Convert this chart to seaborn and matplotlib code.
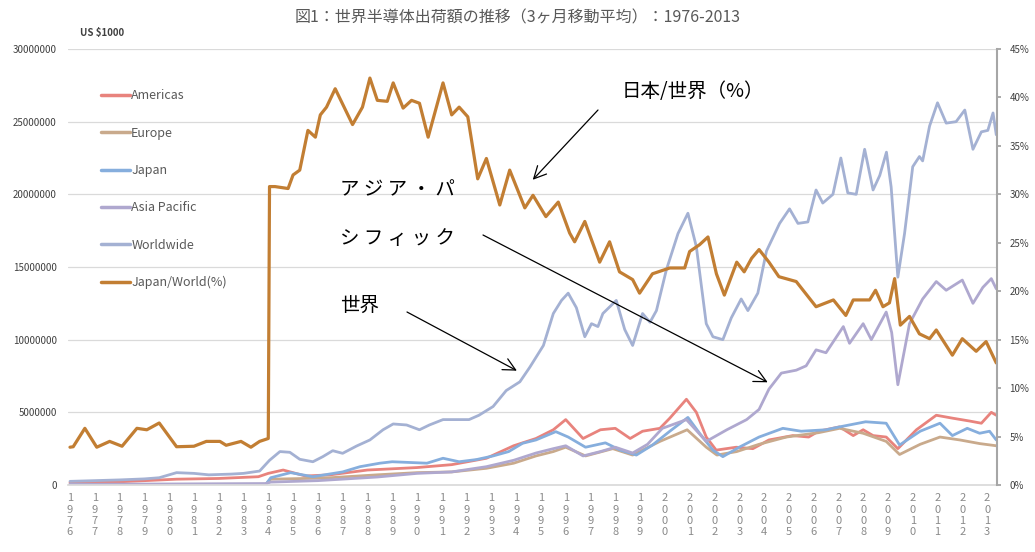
import numpy as np
import pandas as pd
import matplotlib.pyplot as plt
import seaborn as sns

sns.set_theme(style='white')
plt.rcParams['font.family'] = ['Noto Sans CJK JP', 'DejaVu Sans']

#################################################################################
# data (US$1000 in millions, share in %)

am_year = [1976.0, 1978.0, 1980.3, 1982.0, 1983.6, 1984.0, 1984.6, 1985.5, 1986.5, 1988.0,
           1990.0, 1991.4, 1992.8, 1993.9, 1994.8, 1995.5, 1996.0, 1996.7, 1997.4, 1998.0,
           1998.6, 1999.1, 1999.8, 2000.2, 2000.87, 2001.27, 2001.67, 2002.07, 2002.88, 2003.55,
           2004.2, 2005.16, 2005.8, 2006.2, 2007.05, 2007.6, 2008.0, 2008.4, 2008.93, 2009.4,
           2010.15, 2010.95, 2011.6, 2012.3, 2012.77, 2013.17, 2013.37]
am_val = [0.15, 0.22, 0.4, 0.45, 0.57, 0.8, 1.03, 0.62, 0.7, 1.03,
          1.2, 1.4, 1.84, 2.7, 3.2, 3.8, 4.5, 3.2, 3.8, 3.9,
          3.2, 3.7, 3.9, 4.6, 5.9, 5.0, 3.3, 2.4, 2.6, 2.5,
          3.1, 3.4, 3.3, 3.7, 4.0, 3.4, 3.8, 3.4, 3.3, 2.5,
          3.8, 4.8, 4.6, 4.4, 4.25, 5.0, 4.8]

eu_year = [1976.0, 1983.9, 1984.1, 1985.5, 1986.5, 1988.4, 1990.0, 1991.4, 1992.8, 1993.9,
           1994.8, 1995.5, 1996.0, 1996.8, 1997.9, 1998.7, 1999.8, 2000.9, 2001.67, 2002.1,
           2002.9, 2003.8, 2004.9, 2006.2, 2007.05, 2008.0, 2008.93, 2009.47, 2010.3, 2011.1,
           2011.9, 2012.7, 2013.37]
eu_val = [0.03, 0.05, 0.4, 0.45, 0.5, 0.7, 0.85, 0.9, 1.15, 1.5,
          2.0, 2.3, 2.6, 2.0, 2.5, 2.06, 3.0, 3.8, 2.6, 2.06,
          2.3, 2.8, 3.3, 3.6, 3.9, 3.56, 3.0, 2.1, 2.8, 3.3,
          3.1, 2.85, 2.7]

jp_year = [1976.0, 1980.0, 1983.9, 1984.1, 1984.9, 1985.8, 1987.0, 1987.7, 1988.5, 1989.0,
           1990.4, 1991.05, 1991.7, 1992.4, 1993.07, 1993.7, 1994.26, 1994.8, 1995.6, 1996.1,
           1996.8, 1997.6, 1998.2, 1998.85, 1999.5, 2000.2, 2000.93, 2001.4, 2001.94, 2002.34,
           2003.0, 2003.8, 2004.76, 2005.5, 2006.5, 2007.05, 2008.1, 2008.93, 2009.47, 2010.3,
           2011.1, 2011.6, 2012.2, 2012.7, 2013.1, 2013.37]
jp_val = [0.01, 0.03, 0.045, 0.5, 0.85, 0.57, 0.9, 1.26, 1.5, 1.6,
          1.5, 1.84, 1.6, 1.75, 2.0, 2.3, 2.87, 3.1, 3.67, 3.3,
          2.6, 2.9, 2.4, 2.06, 2.75, 3.7, 4.65, 3.56, 2.4, 1.95,
          2.6, 3.3, 3.9, 3.7, 3.8, 4.0, 4.35, 4.25, 2.75, 3.7,
          4.25, 3.4, 3.9, 3.56, 3.7, 3.1]

ap_year = [1976.0, 1980.0, 1983.9, 1984.1, 1986.0, 1988.4, 1990.0, 1991.4, 1992.8, 1993.9,
           1994.8, 1995.5, 1996.0, 1996.7, 1997.4, 1998.0, 1998.7, 1999.3, 1999.9, 2000.87,
           2001.67, 2002.5, 2003.3, 2003.8, 2004.2, 2004.7, 2005.3, 2005.7, 2006.1, 2006.5,
           2007.2, 2007.45, 2008.0, 2008.33, 2008.93, 2009.15, 2009.4, 2009.87, 2010.4, 2010.95,
           2011.35, 2012.0, 2012.43, 2012.83, 2013.17, 2013.37]
ap_val = [0.05, 0.07, 0.1, 0.2, 0.3, 0.55, 0.8, 0.9, 1.26, 1.7,
          2.2, 2.5, 2.7, 2.0, 2.3, 2.6, 2.2, 2.8, 3.9, 4.5,
          3.0, 3.8, 4.5, 5.2, 6.6, 7.7, 7.9, 8.2, 9.3, 9.1,
          10.9, 9.75, 11.1, 10.0, 11.9, 10.5, 6.9, 11.1, 12.8, 14.0,
          13.4, 14.1, 12.5, 13.6, 14.2, 13.5]

ww_year = [1976.0, 1977.0, 1978.0, 1979.0, 1979.6, 1980.3, 1981.0, 1981.6, 1982.5, 1983.0,
           1983.65, 1984.05, 1984.47, 1984.87, 1985.27, 1985.8, 1986.2, 1986.6, 1987.0, 1987.56,
           1988.1, 1988.63, 1989.04, 1989.58, 1990.1, 1990.5, 1991.05, 1991.6, 1992.1, 1992.5,
           1993.07, 1993.6, 1994.15, 1994.55, 1995.1, 1995.5, 1995.83, 1996.1, 1996.43, 1996.77,
           1997.04, 1997.3, 1997.5, 1998.04, 1998.38, 1998.7, 1999.1, 1999.4, 1999.66, 2000.06,
           2000.53, 2000.93, 2001.27, 2001.67, 2001.94, 2002.34, 2002.68, 2003.08, 2003.35, 2003.75,
           2004.1, 2004.63, 2005.03, 2005.37, 2005.77, 2006.1, 2006.37, 2006.78, 2007.1, 2007.38,
           2007.72, 2008.06, 2008.4, 2008.67, 2008.94, 2009.13, 2009.4, 2009.67, 2010.0, 2010.27,
           2010.4, 2010.68, 2011.0, 2011.35, 2011.75, 2012.1, 2012.43, 2012.77, 2013.03, 2013.24,
           2013.37]
ww_val = [0.25, 0.3, 0.35, 0.42, 0.5, 0.85, 0.8, 0.7, 0.75, 0.8,
          0.96, 1.7, 2.3, 2.25, 1.77, 1.6, 1.95, 2.36, 2.18, 2.68,
          3.1, 3.8, 4.2, 4.13, 3.8, 4.13, 4.5, 4.5, 4.5, 4.8,
          5.4, 6.5, 7.1, 8.1, 9.6, 11.8, 12.7, 13.2, 12.2, 10.2,
          11.1, 10.9, 11.8, 12.7, 10.7, 9.6, 11.8, 11.2, 12.0, 14.8,
          17.3, 18.7, 16.4, 11.1, 10.2, 10.0, 11.5, 12.8, 12.0, 13.2,
          16.1, 18.0, 19.0, 18.0, 18.1, 20.3, 19.4, 20.0, 22.5, 20.1,
          20.0, 23.1, 20.3, 21.3, 22.9, 20.5, 14.3, 17.3, 21.9, 22.6,
          22.3, 24.7, 26.3, 24.9, 25.0, 25.8, 23.1, 24.3, 24.4, 25.6,
          24.1]

jw_year = [1976.0, 1976.13, 1976.6, 1977.08, 1977.6, 1978.1, 1978.7, 1979.1, 1979.6, 1980.3,
           1981.0, 1981.5, 1982.05, 1982.3, 1982.9, 1983.3, 1983.65, 1984.0, 1984.05, 1984.27,
           1984.8, 1985.0, 1985.27, 1985.6, 1985.9, 1986.1, 1986.35, 1986.7, 1987.4, 1987.8,
           1988.1, 1988.4, 1988.8, 1989.04, 1989.44, 1989.78, 1990.1, 1990.45, 1991.05, 1991.4,
           1991.7, 1992.05, 1992.45, 1992.8, 1993.34, 1993.74, 1994.35, 1994.68, 1995.2, 1995.7,
           1996.16, 1996.36, 1996.77, 1997.37, 1997.77, 1998.17, 1998.7, 1998.98, 1999.5, 2000.2,
           2000.8, 2001.0, 2001.4, 2001.74, 2002.08, 2002.4, 2002.9, 2003.2, 2003.5, 2003.8,
           2004.2, 2004.6, 2005.3, 2006.1, 2006.8, 2007.3, 2007.6, 2008.26, 2008.5, 2008.8,
           2009.06, 2009.27, 2009.5, 2009.87, 2010.27, 2010.68, 2010.95, 2011.6, 2012.0, 2012.56,
           2012.96, 2013.37]
jw_pct = [3.9, 3.95, 5.85, 3.9, 4.5, 4.0, 5.85, 5.7, 6.4, 3.95,
          4.0, 4.5, 4.5, 4.1, 4.5, 3.9, 4.5, 4.8, 30.8, 30.8,
          30.6, 32.0, 32.5, 36.6, 35.9, 38.2, 39.0, 40.9, 37.2, 39.0,
          42.0, 39.7, 39.6, 41.5, 38.9, 39.7, 39.4, 35.9, 41.5, 38.2,
          39.0, 38.0, 31.6, 33.7, 28.9, 32.5, 28.6, 29.9, 27.7, 29.2,
          26.0, 25.1, 27.2, 23.0, 25.1, 22.0, 21.2, 19.8, 21.8, 22.4,
          22.4, 24.1, 24.8, 25.6, 21.8, 19.6, 23.0, 22.0, 23.4, 24.3,
          23.0, 21.5, 21.0, 18.4, 19.1, 17.5, 19.1, 19.1, 20.1, 18.4,
          18.8, 21.3, 16.5, 17.4, 15.6, 15.1, 16.0, 13.4, 15.1, 13.8,
          14.8, 12.6]

regions = ['Americas', 'Europe', 'Japan', 'Asia Pacific', 'Worldwide']
colors = ['#E8837D', '#C9AA8C', '#86AEDD', '#AFA8CF', '#A4B1D3']
jw_color = '#C27E33'
years = list(range(1976, 2014))

frames = []
for name, xs, ys in zip(regions, [am_year, eu_year, jp_year, ap_year, ww_year],
                        [am_val, eu_val, jp_val, ap_val, ww_val]):
    frames.append(pd.DataFrame({'year': xs, 'value': np.array(ys) * 1e6, 'region': name}))
df = pd.concat(frames, ignore_index=True)

#################################################################################
# plot

fig = plt.figure(figsize=(10.35, 5.52), dpi=100)
ax = fig.add_axes([68/1035, 1-485/552, (997-68)/1035, (485-49)/552])

sns.lineplot(data=df, x='year', y='value', hue='region', hue_order=regions,
             palette=dict(zip(regions, colors)), linewidth=2.0, estimator=None,
             sort=False, legend=False, ax=ax)

ax.set_xlim(1975.92, 2013.4)
ax.set_ylim(0, 30e6)
ax.set_yticks(range(0, 30000001, 5000000))
ax.set_yticklabels([str(v) for v in range(0, 30000001, 5000000)])
ax.set_xticks(years)
ax.set_xticklabels(['\n'.join(str(y)) for y in years], linespacing=1.15)
ax.tick_params(axis='y', length=0, labelsize=7, labelcolor='#404040', pad=8)
ax.tick_params(axis='x', length=0, labelsize=8, labelcolor='#8A8A8A', pad=6)
ax.yaxis.grid(True, color='#DADADA', lw=0.9)
ax.set_xlabel('')
ax.set_ylabel('')
for s in ['top', 'left', 'right']:
    ax.spines[s].set_visible(False)
ax.spines['bottom'].set_color('#DADADA')

ax2 = ax.twinx()
sns.lineplot(x=jw_year, y=jw_pct, color=jw_color, linewidth=2.3, estimator=None,
             sort=False, ax=ax2)
ax2.set_ylim(0, 45)
ax2.set_yticks(range(0, 46, 5))
ax2.set_yticklabels([f'{v}%' for v in range(0, 46, 5)])
ax2.tick_params(axis='y', length=3, color='#A0A0A0', labelsize=7, labelcolor='#404040', pad=6)
ax2.grid(False)
for s in ['top', 'left', 'bottom']:
    ax2.spines[s].set_visible(False)
ax2.spines['right'].set_color('#A6A6A6')
ax2.spines['right'].set_linewidth(1.5)

# legend
handles = [plt.Line2D([], [], color=c, lw=2.5) for c in colors]
handles.append(plt.Line2D([], [], color=jw_color, lw=2.5))
fig.legend(handles, regions + ['Japan/World(%)'], loc='upper left',
           bbox_to_anchor=(90/1035, 1-78/552), frameon=False, fontsize=9,
           labelspacing=1.95, handlelength=2.3, handletextpad=0.1, labelcolor='#595959')

# titles
fig.text(0.5, 1-18/552, '図1：世界半導体出荷額の推移（3ヶ月移動平均）：1976-2013',
         ha='center', va='center', fontsize=11.5, color='#595959')
fig.text(80/1035, 1-33/552, 'US $1000', ha='left', va='center', fontsize=7,
         fontweight='bold', color='#404040')

# annotations
fig.text(622/1035, 1-92/552, '日本/世界（%）', ha='left', va='center', fontsize=14, color='black')
fig.text(340/1035, 1-190/552, 'ア ジ ア ・ パ', ha='left', va='center', fontsize=14, color='black')
fig.text(340/1035, 1-238/552, 'シ フ ィ ッ ク', ha='left', va='center', fontsize=14, color='black')
fig.text(340/1035, 1-305/552, '世界', ha='left', va='center', fontsize=14, color='black')

arrow = dict(arrowstyle='->', color='black', lw=0.9, mutation_scale=22, shrinkA=0, shrinkB=0)
ax2.annotate('', xy=(1994.67, 31.5), xytext=(598, 552-110), textcoords='figure pixels', arrowprops=arrow)
ax2.annotate('', xy=(2004.15, 10.6), xytext=(483, 552-235), textcoords='figure pixels', arrowprops=arrow)
ax2.annotate('', xy=(1994.03, 11.8), xytext=(407, 552-312), textcoords='figure pixels', arrowprops=arrow)

plt.savefig('out.png', dpi=100)
